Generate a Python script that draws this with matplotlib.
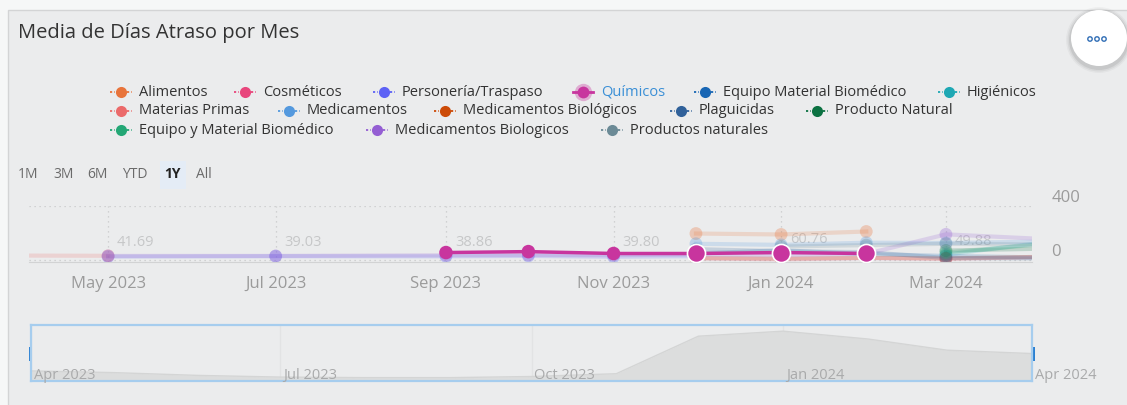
import numpy as np
import pandas as pd
import matplotlib
matplotlib.use("Agg")
import matplotlib.pyplot as plt
import matplotlib.dates as mdates
from matplotlib.patches import Rectangle, Circle
from matplotlib.transforms import blended_transform_factory

plt.rcParams['font.family'] = ['Open Sans', 'DejaVu Sans']

# --- data ---
DATES = pd.to_datetime([
    '2023-03-01', '2023-04-01', '2023-05-01', '2023-06-01', '2023-07-01',
    '2023-08-01', '2023-09-01', '2023-10-01', '2023-11-01', '2023-12-01',
    '2024-01-01', '2024-02-01', '2024-03-01', '2024-04-01'])
N = np.nan

alimentos = [N, N, N, N, N, N, N, N, N, 196, 189, 211, N, N]
cosmeticos = [N, N, N, N, N, N, N, N, N, 12, 5, 14, 8, 20]
personeria = [N, N, 25, N, 28, N, 27, 30, 24, 28, N, N, N, N]
quimicos = [N, N, N, N, N, N, 55, 62, 48, 48, 55, 48, N, N]
equipo_mat_biomed = [N, N, N, N, N, N, N, N, N, 48, 72, 44, 30, 20]
higienicos = [N, N, N, N, N, N, N, N, N, N, N, N, 40, 118]
materias_primas = [34, N, 31, N, N, N, N, N, N, N, N, N, N, N]
medicamentos = [N, N, N, N, N, N, N, N, N, 120, 112, 128, 126, 135]
med_biologicos = [N, N, N, N, N, N, N, N, N, 14, 10, 16, 12, 22]
plaguicidas = [N, N, N, N, N, N, N, N, N, 80, 65, 58, 15, 12]
producto_natural = [N, N, N, N, N, N, N, N, N, N, N, N, 70, 82]
equipo_y_material = [N, N, N, N, N, N, N, N, N, N, N, N, 55, 110]
med_biologicos_2 = [N, N, 30, N, 30, N, 35, 38, 36, 40, 35, 45, 190, 160]
productos_naturales = [N, N, N, N, N, N, N, N, N, N, 100, 110, 120, 115]

SERIES_NAMES = ['Alimentos', 'Cosméticos', 'Personería/Traspaso', 'Químicos',
                'Equipo Material Biomédico', 'Higiénicos', 'Materias Primas',
                'Medicamentos', 'Medicamentos Biológicos', 'Plaguicidas',
                'Producto Natural', 'Equipo y Material Biomédico',
                'Medicamentos Biologicos', 'Productos naturales']
SERIES_COLORS = ['#e8743b', '#e8467c', '#5d62f5', '#c8359e', '#1866b4', '#1ea8b4',
                 '#eb6a6a', '#5499de', '#cc4b08', '#30619a', '#0b7141', '#23a775',
                 '#945ed3', '#6b8a96']
SERIES_VALUES = [alimentos, cosmeticos, personeria, quimicos, equipo_mat_biomed,
                 higienicos, materias_primas, medicamentos, med_biologicos,
                 plaguicidas, producto_natural, equipo_y_material, med_biologicos_2,
                 productos_naturales]
HIGHLIGHT = 'Químicos'

LABEL_DATES = pd.to_datetime(['2023-05-01', '2023-07-01', '2023-09-01',
                              '2023-11-01', '2024-01-01', '2024-03-01'])
LABEL_VALUES = [41.69, 39.03, 38.86, 39.80, 60.76, 49.88]

NAV_DATES = pd.to_datetime([
    '2023-04-01', '2023-05-01', '2023-06-01', '2023-07-01', '2023-08-01',
    '2023-09-01', '2023-10-01', '2023-11-01', '2023-12-01', '2024-01-01',
    '2024-02-01', '2024-03-01', '2024-04-01'])
NAV_VALUES = [18, 15, 10, 7, 6, 6, 8, 13, 80, 89, 75, 55, 49]

RANGE_BUTTONS = ['1M', '3M', '6M', 'YTD', '1Y', 'All']

# --- layout helpers (pixel coords, origin top-left) ---
W, H = 1127, 405


def px_box(x0, y0, x1, y1):
    return [x0 / W, 1 - y1 / H, (x1 - x0) / W, (y1 - y0) / H]


fig = plt.figure(figsize=(W / 100, H / 100), dpi=100)
fig.patch.set_facecolor('#f6f7f7')

canvas = fig.add_axes([0, 0, 1, 1])
canvas.set_xlim(0, W)
canvas.set_ylim(H, 0)
canvas.axis('off')

# card
canvas.add_patch(Rectangle((8, 10), W, H, facecolor='#ebeced', edgecolor='#d3d4d5', lw=1))
canvas.text(18, 33, 'Media de Días Atraso por Mes', fontsize=14.5, color='#333333', va='center')

# "..." button with soft shadow
for k, a in [(5, 0.03), (3.5, 0.05), (2, 0.07)]:
    canvas.add_patch(Circle((1099, 40), 28 + k, facecolor='black', alpha=a, lw=0))
canvas.add_patch(Circle((1099, 38), 28, facecolor='white', lw=0))
for dx in (-7, 0, 7):
    canvas.add_patch(Circle((1097 + dx, 39), 2.2, facecolor='none', edgecolor='#2f6db5', lw=1))

# legend (manual, three wrapped rows like the original)
legend_pos = [(121, 92), (245, 92), (384, 92), (583, 92), (705, 92), (949, 92),
              (121, 111), (289, 111), (445, 111), (681, 111), (817, 111),
              (121, 130), (377, 130), (612, 130)]
for name, color, (mx, my) in zip(SERIES_NAMES, SERIES_COLORS, legend_pos):
    if name == HIGHLIGHT:
        canvas.plot([mx - 10, mx + 10], [my, my], color=color, lw=2)
        canvas.plot(mx, my, 'o', ms=12.5, color=color, alpha=0.35, mec='none')
        canvas.plot(mx, my, 'o', ms=8.5, color=color, mec='none')
        tcol = '#3a8fd6'
    else:
        canvas.plot([mx - 11, mx - 6], [my, my], color=color, lw=1.3, ls=(0, (1.2, 1.2)))
        canvas.plot([mx + 6, mx + 11], [my, my], color=color, lw=1.3, ls=(0, (1.2, 1.2)))
        canvas.plot(mx, my, 'o', ms=8, color=color, mec='none')
        tcol = '#333333'
    canvas.text(mx + 18, my, name, fontsize=10.5, color=tcol, va='center')

# range selector
btn_x = [18, 53, 87, 122, 164, 196]
canvas.add_patch(Rectangle((160, 161), 26, 28, facecolor='#e4ecf6', lw=0))
for lab, bx in zip(RANGE_BUTTONS, btn_x):
    sel = lab == '1Y'
    canvas.text(bx, 174, lab, fontsize=10, va='center',
                color='#222222' if sel else '#6a6a6a',
                fontweight='bold' if sel else 'normal')

# --- main plot ---
ax = fig.add_axes(px_box(29, 206, 1032, 262))
ax.patch.set_alpha(0)
ax.set_xlim(pd.Timestamp('2023-04-02 05:00'), pd.Timestamp('2024-04-01 08:00'))
ax.set_ylim(-15, 400)

x0, x1 = ax.get_xlim()
for name, color, vals in zip(SERIES_NAMES, SERIES_COLORS, SERIES_VALUES):
    v = np.array(vals, dtype=float)
    m = ~np.isnan(v)
    xs, ys = DATES[m], v[m]
    xn = mdates.date2num(xs)
    vis = (xn > x0 + 3) & (xn < x1 - 3)   # markers sitting on the edges are hidden
    if name == HIGHLIGHT:
        ax.plot(xs, ys, color=color, lw=2.5, zorder=6, solid_capstyle='round')
        big = xs >= pd.Timestamp('2023-12-01')
        ax.scatter(xs[~big], ys[~big], s=95, color=color, edgecolor='none', zorder=7)
        ax.scatter(xs[big], ys[big], s=170, color=color, edgecolor='white', lw=1.2, zorder=7)
    else:
        ax.plot(xs, ys, color=color, lw=3, alpha=0.2, zorder=3)
        ax.scatter(xs[vis], ys[vis], s=85, color=color, alpha=0.3, edgecolor='none', zorder=4)

for d, val in zip(LABEL_DATES, LABEL_VALUES):
    ax.annotate(f'{val:.2f}', (d, val), xytext=(9, 12), textcoords='offset pixels',
                ha='left', va='center', fontsize=10.5, color='#c6c7c8', zorder=2)

ax.set_yticks([0, 400])
ax.yaxis.tick_right()
ax.tick_params(axis='y', length=0, pad=14, labelsize=12, labelcolor='#9b9b9b')
for t in ax.get_yticklabels():
    t.set_va('bottom')
ax.xaxis.set_major_locator(mdates.MonthLocator(bymonth=[1, 3, 5, 7, 9, 11]))
ax.xaxis.set_major_formatter(mdates.DateFormatter('%b %Y'))
ax.tick_params(axis='x', length=0, pad=10, labelsize=12, labelcolor='#9b9b9b')
ax.grid(True, ls=(0, (1, 3)), color='#c8c9ca', lw=0.9)
for s in ['top', 'left', 'right']:
    ax.spines[s].set_visible(False)
ax.spines['bottom'].set_color('#d2d3d4')

# --- navigator ---
nav = fig.add_axes(px_box(31, 325, 1032, 381))
nav.set_facecolor('#ebeced')
nav.set_xlim(pd.Timestamp('2023-04-01'), pd.Timestamp('2024-04-01'))
nav.set_ylim(0, 100)
nav.fill_between(NAV_DATES, NAV_VALUES, color='#dcdddd', lw=0)
nav.plot(NAV_DATES, NAV_VALUES, color='#d4d5d5', lw=1)
nav_ticks = pd.to_datetime(['2023-04-01', '2023-07-01', '2023-10-01', '2024-01-01', '2024-04-01'])
trans = blended_transform_factory(nav.transData, nav.transAxes)
for t in nav_ticks:
    nav.axvline(t, color='#e2e3e4', lw=1, zorder=0.5)
    nav.annotate(t.strftime('%b %Y'), (mdates.date2num(t), 0.1), xycoords=trans,
                 xytext=(3, 0), textcoords='offset pixels', va='center', ha='left',
                 fontsize=10.5, color='#a9aaab', annotation_clip=False)
nav.set_xticks([])
nav.set_yticks([])
for s in nav.spines.values():
    s.set_color('#a6cdee')
    s.set_linewidth(1.6)

# navigator handles
for hx in (29, 1030):
    canvas.add_patch(Rectangle((hx, 347), 5, 14, facecolor='#2a80d2', lw=0, zorder=10))

fig.savefig('out.png', dpi=100, facecolor=fig.get_facecolor())
